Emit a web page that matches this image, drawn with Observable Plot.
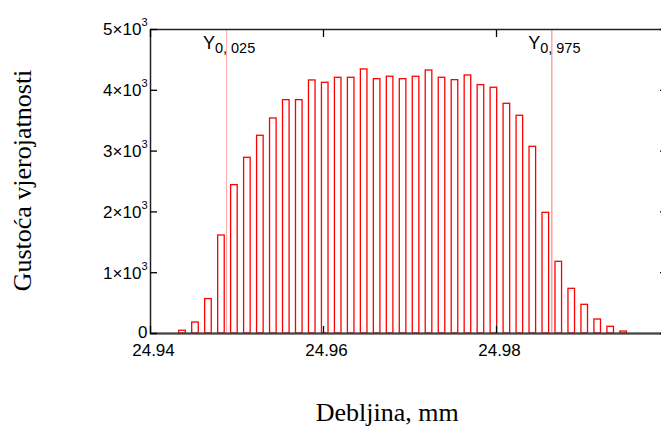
<!DOCTYPE html>
<html>
<head>
<meta charset="utf-8">
<script src="https://cdn.jsdelivr.net/npm/d3@7"></script>
<script src="https://cdn.jsdelivr.net/npm/@observablehq/plot@0.6"></script>
<style>html,body{margin:0;padding:0;background:#fff;}</style>
</head>
<body>
<div id="chart"></div>
<script>
// Histogram bin centres (mm) and counts
const binCenters = [24.9437, 24.9452, 24.9467, 24.9482, 24.9497, 24.9512, 24.9527, 24.9542, 24.9557, 24.9572,
                    24.9587, 24.9602, 24.9617, 24.9632, 24.9647, 24.9662, 24.9677, 24.9692, 24.9707, 24.9722,
                    24.9737, 24.9752, 24.9767, 24.9782, 24.9797, 24.9812, 24.9827, 24.9842, 24.9857, 24.9872,
                    24.9887, 24.9902, 24.9917, 24.9932, 24.9947];
const counts = [45, 181, 566, 1612, 2441, 2890, 3252, 3537, 3838, 3838,
                4162, 4124, 4206, 4206, 4343, 4183, 4223, 4183, 4223, 4326,
                4206, 4167, 4244, 4085, 4042, 3778, 3581, 3071, 1985, 1179,
                735, 472, 230, 110, 33];
const xTicks = [24.94, 24.96, 24.98];
const xTickLabels = ["24.94", "24.96", "24.98"];
const yTicks = [0, 1000, 2000, 3000, 4000, 5000];
const yTickLabels = ["0", "1×10^3", "2×10^3", "3×10^3", "4×10^3", "5×10^3"];
const quantileX = [24.9488, 24.9864];
const quantileSub = ["0, 025", "0, 975"];
const quantileColors = ["#ffa8a8", "#ff5050"];
const xLabel = "Debljina, mm";
const yLabel = "Gustoća vjerojatnosti";

const bins = binCenters.map((c, i) => ({c, n: counts[i]}));
const halfWidth = 0.00038;
const quantiles = quantileX.map((x, i) => ({x, sub: quantileSub[i]}));
const serif = "'Liberation Serif', 'Times New Roman', serif";

const chart = Plot.plot({
  width: 661,
  height: 428,
  marginLeft: 150,
  marginRight: -4,
  marginTop: 29,
  marginBottom: 95,
  style: {fontFamily: "'Liberation Sans', Arial, sans-serif", background: "#fff", color: "#000"},
  x: {domain: [24.94, 25.0], range: [150, 669]},
  y: {domain: [0, 5000]},
  marks: [
    Plot.rectY(bins, {x1: d => d.c - halfWidth, x2: d => d.c + halfWidth, y1: 0, y2: "n",
                      fill: "none", stroke: "#ff0000", strokeWidth: 1.3}),
    Plot.ruleX([quantiles[0]], {x: "x", y1: 0, y2: 5000, stroke: quantileColors[0], strokeWidth: 1}),
    Plot.ruleX([quantiles[1]], {x: "x", y1: 0, y2: 5000, stroke: quantileColors[1], strokeWidth: 0.8}),
    Plot.text(quantiles, {x: "x", y: 5000, text: () => "Y", textAnchor: "start", dx: -23.7, dy: 13.5,
                          fontSize: 18, fill: "#000"}),
    Plot.text(quantiles, {x: "x", y: 5000, text: "sub", textAnchor: "start", dx: -11.7, dy: 18.4,
                          fontSize: 14.5, fill: "#000"}),
    Plot.frame({stroke: "#222", strokeWidth: 1.5}),
    Plot.ruleY([0], {stroke: "#444", strokeWidth: 2}),
    // ticks (inward)
    Plot.axisX(xTicks, {anchor: "bottom", tickSize: -7, tickFormat: () => "", label: null, strokeWidth: 1.3}),
    Plot.axisX(xTicks, {anchor: "top", tickSize: -7, tickFormat: () => "", label: null, strokeWidth: 1.3}),
    Plot.axisY(yTicks, {anchor: "left", tickSize: -7, tickFormat: () => "", label: null, strokeWidth: 1.3}),
    Plot.axisY(yTicks, {anchor: "right", tickSize: -6, tickFormat: () => "", label: null, strokeWidth: 1.3}),
    // tick labels
    Plot.axisX(xTicks, {anchor: "bottom", tickSize: 0, tickPadding: 10, dx: 3, fontSize: 17, label: null,
                        tickFormat: d => xTickLabels[xTicks.indexOf(d)]}),
    Plot.axisY(yTicks, {anchor: "left", tickSize: 0, tickPadding: 3, fontSize: 17, label: null,
                        tickFormat: d => yTickLabels[yTicks.indexOf(d)]}),
    // axis titles
    Plot.text([xLabel], {frameAnchor: "bottom", textAnchor: "middle", lineAnchor: "middle",
                         dx: -20.8, dy: 79.5, fontSize: 26, fontFamily: serif, fill: "#000"}),
    Plot.text([yLabel], {frameAnchor: "left", textAnchor: "middle", lineAnchor: "middle", rotate: -90,
                         dx: -128.3, dy: -1, fontSize: 26, fontFamily: serif, fill: "#000"})
  ]
});

// superscript exponents on the y tick labels
d3.select(chart).selectAll('g[aria-label="y-axis tick label"] text').each(function () {
  const t = d3.select(this);
  const s = t.text();
  if (s.includes("^")) {
    const [base, exp] = s.split("^");
    t.text(null).attr("dy", 0.5);
    t.append("tspan").text(base);
    t.append("tspan").attr("dy", -9).attr("font-size", 11).text(exp);
  } else {
    t.attr("dy", -0.5);
  }
});

document.getElementById("chart").appendChild(chart);
</script>
</body>
</html>
